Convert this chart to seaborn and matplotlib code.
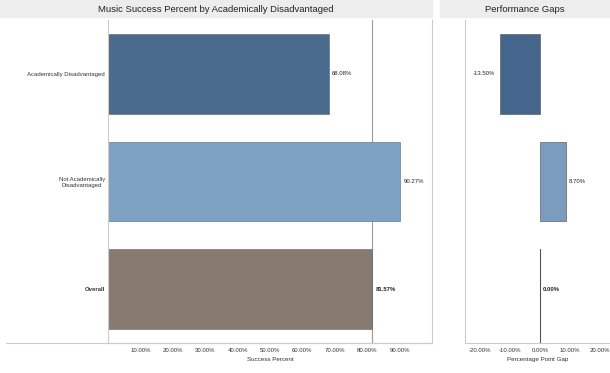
import seaborn as sns
import matplotlib.pyplot as plt
import pandas as pd
from matplotlib.patches import Rectangle
from matplotlib.lines import Line2D

GROUPS = ['Academically Disadvantaged', 'Not Academically\nDisadvantaged', 'Overall']
SUCCESS = [68.08, 90.27, 81.57]
GAPS = [-13.50, 8.70, 0.00]
BAR_COLORS = ['#4a6a8e', '#7ea2c4', '#867a71']
GAP_COLORS = ['#44658c', '#7b9cbf', '#867a71']
MAIN_TICKS = [10, 20, 30, 40, 50, 60, 70, 80, 90]
GAP_TICKS = [-20, -10, 0, 10, 20]

W, H = 610, 373


def fx(px):
    return px / W


def fy(py):
    return 1 - py / H


def style_axes(ax):
    for s in ax.spines.values():
        s.set_color('#cccccc')
        s.set_linewidth(0.8)
    ax.spines['top'].set_visible(False)
    ax.tick_params(axis='both', length=0, labelsize=4.3, colors='#333333')
    ax.set_ylabel('')


sns.set_theme(style='white')
plt.rcParams['font.family'] = ['Liberation Sans', 'DejaVu Sans']

df = pd.DataFrame({'Group': GROUPS, 'Success': SUCCESS, 'Gap': GAPS})

fig = plt.figure(figsize=(W / 100, H / 100), dpi=100)
top, bottom = 20, 343
ax = fig.add_axes([fx(108), fy(bottom), fx(432 - 108), (bottom - top) / H])
ax2 = fig.add_axes([fx(465), fy(bottom), fx(610 - 465), (bottom - top) / H])

# header bands
fig.patches.append(Rectangle((0, fy(17)), fx(432), 17 / H, transform=fig.transFigure,
                             color='#ededed', zorder=0))
fig.patches.append(Rectangle((fx(440), fy(17)), fx(170), 17 / H, transform=fig.transFigure,
                             color='#ededed', zorder=0))
fig.text(fx(216), fy(9), 'Music Success Percent by Academically Disadvantaged',
         ha='center', va='center', fontsize=6.8, color='#222222')
fig.text(fx(525), fy(9), 'Performance Gaps', ha='center', va='center',
         fontsize=6.8, color='#222222')
fig.lines.append(Line2D([fx(6), fx(432)], [fy(bottom), fy(bottom)],
                        transform=fig.transFigure, color='#cccccc', lw=0.8))

# main panel
sns.barplot(data=df, x='Success', y='Group', hue='Group', palette=BAR_COLORS,
            orient='h', width=0.74, legend=False, ax=ax, saturation=1,
            edgecolor='#5a6470', linewidth=0.4)
ax.set_xlim(0, 100)
ax.set_ylim(2.5, -0.5)
ax.axvline(SUCCESS[2], color='#9a9a9a', lw=0.8, zorder=0)
ax.set_xticks(MAIN_TICKS)
ax.set_xticklabels([f'{t:.2f}%' for t in MAIN_TICKS])
ax.set_xlabel('Success Percent', fontsize=4.5, color='#333333', labelpad=3)
style_axes(ax)
ax.tick_params(axis='y', pad=2, labelsize=4.3)
for lab in ax.get_yticklabels():
    lab.set_ha('right')
    lab.set_multialignment('center')
    if lab.get_text() == 'Overall':
        lab.set_fontweight('bold')
for i, v in enumerate(SUCCESS):
    ax.text(v + 1.0, i, f'{v:.2f}%', va='center', ha='left', fontsize=4.3,
            color='#222222', fontweight='bold' if i == 2 else 'normal')

# gap panel
sns.barplot(data=df, x='Gap', y='Group', hue='Group', palette=GAP_COLORS,
            orient='h', width=0.74, legend=False, ax=ax2, saturation=1,
            edgecolor='#5a6470', linewidth=0.5)
ax2.set_xlim(-25, 23.3)
ax2.set_ylim(2.5, -0.5)
ax2.plot([0, 0], [2 - 0.37, 2.5], color='#555555', lw=0.8)
ax2.set_xticks(GAP_TICKS)
ax2.set_xticklabels([f'{t:.2f}%' for t in GAP_TICKS])
ax2.set_yticks([])
ax2.set_xlabel('Percentage Point Gap', fontsize=4.5, color='#333333', labelpad=3)
style_axes(ax2)
ax2.spines['right'].set_visible(False)
for i, v in enumerate(GAPS):
    if v < 0:
        ax2.text(v - 1.5, i, f'{v:.2f}%', va='center', ha='right', fontsize=4.3, color='#222222')
    else:
        ax2.text(v + 1.0, i, f'{v:.2f}%', va='center', ha='left', fontsize=4.3,
                 color='#222222', fontweight='bold' if i == 2 else 'normal')

fig.savefig('out.png', dpi=100)
